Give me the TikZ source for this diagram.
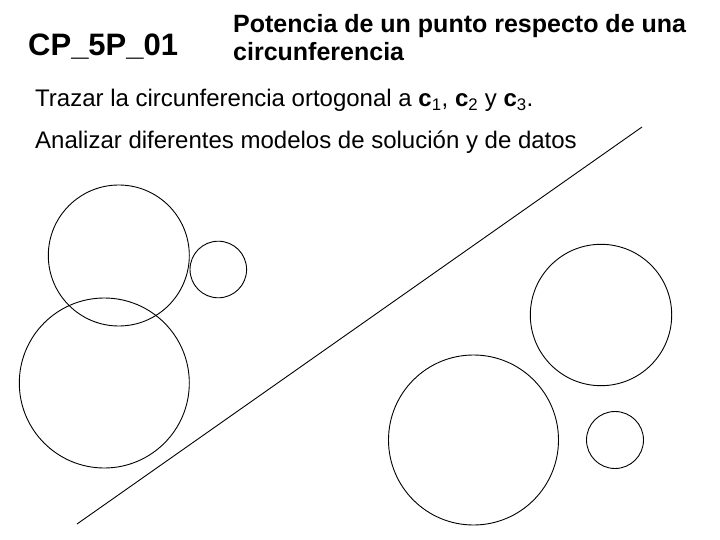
\documentclass[tikz,border=0pt]{standalone}
\usepackage{fontspec}
\setmainfont{Liberation Sans}
\begin{document}
\begin{tikzpicture}[x=1pt,y=-1pt,
  ring/.style={draw, circle, inner sep=0pt, line width=0.9pt},
  txt/.style={anchor=base west, inner sep=0pt},
  titlefont/.style={font=\fontsize{25}{29}\selectfont\bfseries},
  bodyfont/.style={font=\fontsize{24}{28}\selectfont}]
\useasboundingbox (0,0) rectangle (720,540);
% texts
\node[txt, font=\fontsize{31}{36}\selectfont\bfseries] (code) at (28,55.5) {CP\_5P\_01};
\node[txt, titlefont] (title1) at (233,33) {Potencia de un punto respecto de una};
\node[txt, titlefont] (title2) at (233,61) {circunferencia};
\node[txt, bodyfont] (task) at (35,106.5) {Trazar la circunferencia ortogonal a \textbf{c}$_{\mathrm{1}}$, \textbf{c}$_{\mathrm{2}}$ y \textbf{c}$_{\mathrm{3}}$.};
\node[txt, bodyfont] (note) at (35,149) {Analizar diferentes modelos de soluci\'on y de datos};
% circles
\node[ring, minimum size=141pt] (a) at (118.8,255.5) {};
\node[ring, minimum size=56.6pt] (b) at (218.3,269.5) {};
\node[ring, minimum size=170pt] (c) at (104.3,383) {};
\node[ring, minimum size=141.4pt] (d) at (601,315) {};
\node[ring, minimum size=170pt] (e) at (473.5,440) {};
\node[ring, minimum size=57pt] (f) at (615,440) {};
% line
\coordinate (p) at (77,524);
\coordinate (q) at (642,127);
\draw[line width=0.9pt] (p) -- (q);
\end{tikzpicture}
\end{document}
